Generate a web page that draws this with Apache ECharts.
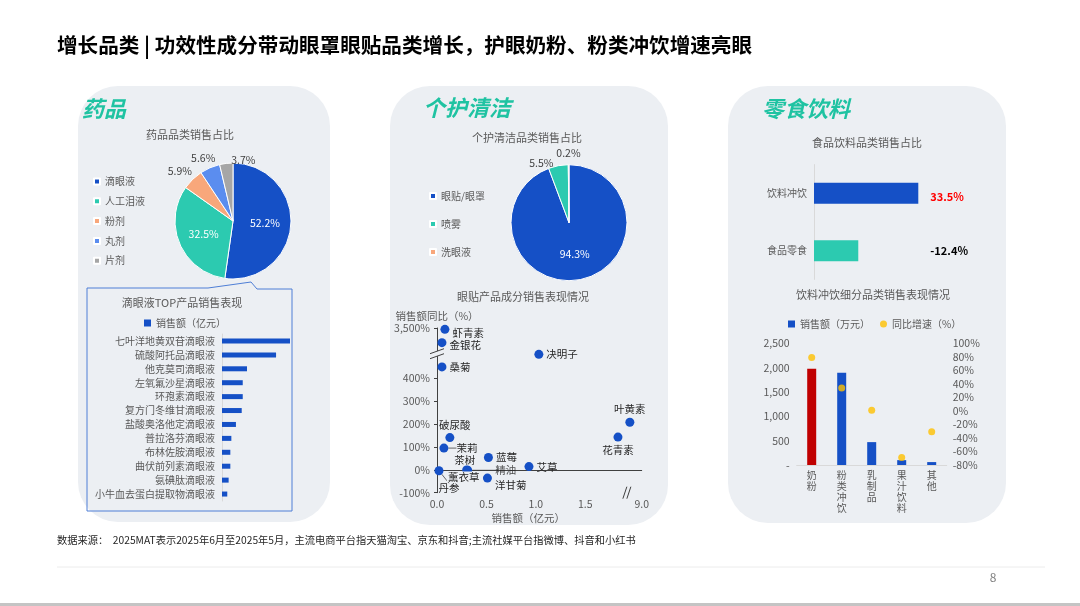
<!DOCTYPE html>
<html><head><meta charset="utf-8">
<script src="https://cdn.jsdelivr.net/npm/echarts@6/dist/echarts.min.js"></script>
<style>html,body{margin:0;padding:0;background:#fff}#c{width:1080px;height:606px}</style>
</head><body><div id="c"></div>
<script>
// ---------------- DATA ----------------
const pageTitle = '增长品类 | 功效性成分带动眼罩眼贴品类增长，护眼奶粉、粉类冲饮增速亮眼';
const sourceNote = '数据来源：  2025MAT表示2025年6月至2025年5月，主流电商平台指天猫淘宝、京东和抖音;主流社媒平台指微博、抖音和小红书';
const pageNumber = '8';
const panelTitles = ['药品', '个护清洁', '零食饮料'];

// 药品
const drugChartTitle = '药品品类销售占比';
const drugCats = ['滴眼液', '人工泪液', '粉剂', '丸剂', '片剂'];
const drugShare = [52.2, 32.5, 5.9, 5.6, 3.7];
const eyeDropTitle = '滴眼液TOP产品销售表现';
const eyeDropSeriesName = '销售额（亿元）';
const eyeDropProducts = ['七叶洋地黄双苷滴眼液', '硫酸阿托品滴眼液', '他克莫司滴眼液', '左氧氟沙星滴眼液', '环孢素滴眼液', '复方门冬维甘滴眼液', '盐酸奥洛他定滴眼液', '普拉洛芬滴眼液', '布林佐胺滴眼液', '曲伏前列素滴眼液', '氨碘肽滴眼液', '小牛血去蛋白提取物滴眼液'];
const eyeDropSales = [4.0, 3.18, 1.47, 1.22, 1.22, 1.16, 0.82, 0.55, 0.49, 0.49, 0.39, 0.31];

// 个护清洁
const careChartTitle = '个护清洁品类销售占比';
const careCats = ['眼贴/眼罩', '喷雾', '洗眼液'];
const careShare = [94.3, 5.5, 0.2];
const ingredientTitle = '眼贴产品成分销售表现情况';
const ingredientXName = '销售额（亿元）';
const ingredientYName = '销售额同比（%）';
const ingredientNames = ['虾青素', '金银花', '桑菊', '决明子', '叶黄素', '花青素', '破尿酸', '茉莉', '蓝莓', '艾草', '茶树精油', '薰衣草', '丹参', '洋甘菊'];
const ingredientSales = [0.08, 0.05, 0.05, 1.03, 8.0, 1.83, 0.13, 0.07, 0.52, 0.93, 0.31, 0.30, 0.02, 0.51];
const ingredientGrowth = [3350, 1900, 450, 620, 208, 143, 141, 95, 54, 14, -2, -1, -4, -36];
const ingredientXTicks = [0, 0.5, 1.0, 1.5, 9.0];
const ingredientYTicks = [-100, 0, 100, 200, 300, 400, 3500];

// 零食饮料
const foodChartTitle = '食品饮料品类销售占比';
const foodCats = ['饮料冲饮', '食品零食'];
const foodShare = [70.2, 29.8];
const foodGrowth = [33.5, -12.4];
const drinkChartTitle = '饮料冲饮细分品类销售表现情况';
const drinkSalesName = '销售额（万元）';
const drinkGrowthName = '同比增速（%）';
const drinkCats = ['奶粉', '粉类冲饮', '乳制品', '果汁饮料', '其他'];
const drinkSales = [1975, 1895, 470, 100, 60];
const drinkGrowth = [79, 34, 1, -69, -31];
const highlightDrink = '奶粉';

// ---------------- STYLE ----------------
const FONT = '"Noto Sans CJK SC", "Noto Sans", sans-serif';
const BLUE = '#1550c6', TEAL = '#2ccab0', ORANGE = '#f8a77b', LBLUE = '#5b8def', GRAY = '#a6a6a6';
const RED = '#c00000', YELLOW = '#ffc000', TXT = '#595959', DARK = '#404040', PANEL = '#eceff3', GREEN = '#1fc3a2';
const drugColors = [BLUE, TEAL, ORANGE, LBLUE, GRAY];
const careColors = [BLUE, TEAL, ORANGE];

// broken-axis scale transforms for the ingredient scatter
const X_LO = 1.9, X_HI = 8.0, X_GAP = 1.95, X_UP = 0.12;
const Y_LO = 500, Y_UP = 0.04;
const mapX = v => v <= X_LO ? v : X_GAP + (v - X_HI) * X_UP;
const unmapX = d => d <= X_LO ? d : X_HI + (d - X_GAP) / X_UP;
const mapY = v => v <= Y_LO ? v : Y_LO + (v - Y_LO) * Y_UP;
const unmapY = d => d <= Y_LO ? d : Y_LO + (d - Y_LO) / Y_UP;

const scLabel = {
  '虾青素': {position: 'right'},
  '金银花': {position: 'right'},
  '桑菊': {position: 'right'},
  '决明子': {position: 'right'},
  '叶黄素': {position: 'top'},
  '花青素': {position: 'bottom'},
  '破尿酸': {position: 'top'},
  '茉莉': {position: 'right'},
  '蓝莓': {position: 'right'},
  '艾草': {position: 'right'},
  '茶树精油': {position: 'top', formatter: '茶树'},
  '薰衣草': {position: 'bottom', backgroundColor: PANEL, padding: [0, 1]},
  '丹参': {position: 'bottom'},
  '洋甘菊': {position: 'right'}
};
// label nudges relative to the default label box; third flag = leader line
const scMove = {
  '虾青素': [0, 4], '金银花': [0, 2], '破尿酸': [5, 0], '茶树精油': [-3, 2],
  '薰衣草': [-3, -6], '洋甘菊': [0, 7], '茉莉': [5, 0, 1], '丹参': [10, 5, 1]
};
const pieNudge = {'粉剂': [5, -1.2], '丸剂': [6.8, -1.2], '片剂': [17.6, 2.2], '喷雾': [0.8, 2.5], '洗眼液': [8.5, -2]};

const chart = echarts.init(document.getElementById('c'));

const txt = (id, text, x, y, size, style) => ({
  type: 'text', id, x, y, z: 50,
  style: Object.assign({text, fill: TXT, fontSize: size, fontFamily: FONT, align: 'center', verticalAlign: 'middle'}, style || {})
});

const moveLabel = (d) => (p) => {
  if (!d) return {};
  const r = p.labelRect;
  return {x: r.x + d[0], y: r.y + r.height / 2 + d[1], align: 'left', verticalAlign: 'middle'};
};

const pieLayout = (names) => (p) => {
  const d = pieNudge[names[p.dataIndex]];
  return d ? {dx: d[0], dy: d[1]} : {};
};

const option = {
  animation: false,
  backgroundColor: '#fff',
  textStyle: {fontFamily: FONT},
  legend: [
    {id: 'lgDrug', orient: 'vertical', left: 88, top: 171.5, itemWidth: 6, itemHeight: 6, itemGap: 9.8, icon: 'rect', selectedMode: false,
      data: drugCats, textStyle: {fontSize: 10, color: TXT}},
    {id: 'lgCare', orient: 'vertical', left: 424, top: 186, itemWidth: 6, itemHeight: 6, itemGap: 18, icon: 'rect', selectedMode: false,
      data: careCats, textStyle: {fontSize: 10, color: TXT}},
    {id: 'lgEye', left: 139, top: 313, itemWidth: 7, itemHeight: 7, icon: 'rect', selectedMode: false,
      data: [eyeDropSeriesName], textStyle: {fontSize: 10, color: TXT}},
    {id: 'lgDrink', left: 783, top: 314, itemWidth: 7, itemHeight: 7, itemGap: 10, selectedMode: false,
      data: [{name: drinkSalesName, icon: 'rect'}, {name: drinkGrowthName, icon: 'circle'}], textStyle: {fontSize: 10, color: TXT}}
  ],
  grid: [
    {id: 'gEye', left: 222, top: 334, width: 68, height: 167, outerBoundsMode: 'none'},
    {id: 'gSc', left: 437, top: 328, width: 204.7, height: 164.7, outerBoundsMode: 'none'},
    {id: 'gFood', left: 814, top: 164.6, width: 104.3, height: 114.8, outerBoundsMode: 'none'},
    {id: 'gDrink', left: 796.7, top: 343.3, width: 150, height: 121.7, outerBoundsMode: 'none'}
  ],
  xAxis: [
    {gridIndex: 0, type: 'value', min: 0, max: 4.0, show: false},
    {gridIndex: 1, type: 'value', min: 0, max: mapX(ingredientXTicks[ingredientXTicks.length - 1]),
      axisLine: {lineStyle: {color: DARK}}, axisTick: {show: false}, splitLine: {show: false},
      axisLabel: {customValues: ingredientXTicks.map(mapX), formatter: v => unmapX(v).toFixed(1), fontSize: 10.5, color: TXT, margin: 6},
      name: ingredientXName, nameLocation: 'middle', nameGap: 20, nameTextStyle: {fontSize: 10.5, color: TXT, padding: [0, 22, 0, 0]}},
    {gridIndex: 2, type: 'value', min: 0, max: 70.2, show: false},
    {gridIndex: 3, type: 'category', data: drinkCats, axisLine: {lineStyle: {color: '#d9d9d9'}}, axisTick: {show: false},
      axisLabel: {interval: 0, formatter: s => s.split('').join('\n'), fontSize: 10, lineHeight: 11, color: TXT, margin: 5}}
  ],
  yAxis: [
    {gridIndex: 0, type: 'category', inverse: true, data: eyeDropProducts, axisLine: {lineStyle: {color: '#d9d9d9'}}, axisTick: {show: false},
      axisLabel: {interval: 0, fontSize: 10, color: TXT, margin: 7}},
    {gridIndex: 1, type: 'value', min: mapY(ingredientYTicks[0]), max: mapY(ingredientYTicks[ingredientYTicks.length - 1]),
      axisLine: {show: true, lineStyle: {color: DARK}}, splitLine: {show: false},
      axisTick: {show: true, customValues: ingredientYTicks.map(mapY), length: 3, lineStyle: {color: DARK}},
      axisLabel: {customValues: ingredientYTicks.map(mapY), formatter: v => Math.round(unmapY(v)).toLocaleString('en-US') + '%', fontSize: 10.5, color: TXT, margin: 7},
      name: ingredientYName, nameLocation: 'end', nameGap: 7, nameTextStyle: {fontSize: 10.5, color: TXT, align: 'center'}},
    {gridIndex: 2, type: 'category', inverse: true, data: foodCats, axisLine: {lineStyle: {color: '#d9d9d9'}}, axisTick: {show: false},
      axisLabel: {fontSize: 10, color: TXT, margin: 7}},
    {gridIndex: 2, type: 'category', inverse: true, position: 'right', data: foodGrowth.map(v => v.toFixed(1) + '%'),
      axisLine: {show: false}, axisTick: {show: false},
      axisLabel: {margin: 12, formatter: v => (v.charAt(0) === '-' ? '{n|' : '{p|') + v + '}',
        rich: {p: {color: '#ff0000', fontWeight: 'bold', fontSize: 11, padding: [8, 0, 0, 0]}, n: {color: '#000', fontWeight: 'bold', fontSize: 11}}}},
    {gridIndex: 3, type: 'value', min: 0, max: 2500, interval: 500, position: 'left', splitLine: {show: false}, axisLine: {show: false}, axisTick: {show: false},
      axisLabel: {formatter: v => v === 0 ? '-' : v.toLocaleString('en-US'), fontSize: 10.5, color: TXT, margin: 7}},
    {gridIndex: 3, type: 'value', min: -80, max: 100, interval: 20, position: 'right', splitLine: {show: false}, axisLine: {show: false}, axisTick: {show: false},
      axisLabel: {formatter: '{value}%', fontSize: 10.5, color: TXT, margin: 6}}
  ],
  series: [
    {type: 'pie', id: 'pDrug', center: [233, 221], radius: 58, startAngle: 90, clockwise: true, silent: true, avoidLabelOverlap: false,
      itemStyle: {borderColor: '#fff', borderWidth: 1},
      labelLine: {show: false, length: 8, length2: 0},
      labelLayout: pieLayout(drugCats),
      label: {formatter: p => p.value.toFixed(1) + '%', fontSize: 10.5, color: DARK},
      data: drugCats.map((n, i) => ({name: n, value: drugShare[i], itemStyle: {color: drugColors[i]},
        label: i < 2 ? {position: 'inside', color: '#fff'} : {position: 'outside'}}))},
    {type: 'pie', id: 'pCare', center: [569, 222.7], radius: 58, startAngle: 90, clockwise: true, silent: true, avoidLabelOverlap: false,
      itemStyle: {borderColor: '#fff', borderWidth: 1},
      labelLine: {show: false, length: 8, length2: 0},
      labelLayout: pieLayout(careCats),
      label: {formatter: p => p.value.toFixed(1) + '%', fontSize: 10.5, color: DARK},
      data: careCats.map((n, i) => ({name: n, value: careShare[i], itemStyle: {color: careColors[i]},
        label: i < 1 ? {position: 'inside', color: '#fff'} : {position: 'outside'}}))},
    {type: 'bar', name: eyeDropSeriesName, xAxisIndex: 0, yAxisIndex: 0, data: eyeDropSales, barWidth: 5, itemStyle: {color: BLUE}, silent: true},
    {type: 'scatter', id: 'sc', xAxisIndex: 1, yAxisIndex: 1, symbolSize: 9, itemStyle: {color: BLUE, opacity: 1}, silent: true,
      label: {show: true, formatter: p => p.name, fontSize: 10.5, color: '#262626', distance: 3},
      labelLine: {show: false, lineStyle: {color: DARK, width: 0.8}},
      labelLayout: p => moveLabel(scMove[ingredientNames[p.dataIndex]])(p),
      data: ingredientNames.map((n, i) => ({name: n, value: [mapX(ingredientSales[i]), mapY(ingredientGrowth[i])],
        label: scLabel[n], labelLine: {show: !!(scMove[n] && scMove[n][2])}}))},
    {type: 'scatter', id: 'scOil', xAxisIndex: 1, yAxisIndex: 1, symbolSize: 9, itemStyle: {color: 'rgba(0,0,0,0)'}, silent: true, z: 1,
      label: {show: true, formatter: '精油', position: 'right', fontSize: 10.5, color: '#262626', distance: 3},
      labelLine: {show: true, lineStyle: {color: DARK, width: 0.8}},
      labelLayout: moveLabel([20, 0]),
      data: [ingredientNames.indexOf('茶树精油')].map(i => ({name: ingredientNames[i], value: [mapX(ingredientSales[i]), mapY(ingredientGrowth[i])]}))},
    {type: 'bar', xAxisIndex: 2, yAxisIndex: 2, barWidth: 21, silent: true,
      data: foodShare.map((v, i) => ({value: v, itemStyle: {color: [BLUE, TEAL][i]}}))},
    {type: 'bar', name: drinkSalesName, xAxisIndex: 3, yAxisIndex: 4, barWidth: 9, itemStyle: {color: BLUE}, silent: true,
      data: drinkSales.map((v, i) => drinkCats[i] === highlightDrink ? {value: v, itemStyle: {color: RED}} : v)},
    {type: 'scatter', name: drinkGrowthName, xAxisIndex: 3, yAxisIndex: 5, symbolSize: 7, itemStyle: {color: YELLOW}, silent: true, z: 5,
      data: drinkGrowth}
  ],
  graphic: {elements: [
    {type: 'rect', id: 'panel1', z: -10, shape: {x: 78, y: 86, width: 252, height: 436, r: 40}, style: {fill: PANEL}},
    {type: 'rect', id: 'panel2', z: -10, shape: {x: 390, y: 86, width: 278, height: 439, r: 40}, style: {fill: PANEL}},
    {type: 'rect', id: 'panel3', z: -10, shape: {x: 728, y: 86, width: 278, height: 437, r: 40}, style: {fill: PANEL}},
    txt('title', pageTitle, 57, 45, 20.6, {fill: '#000', fontWeight: 'bold', align: 'left'}),
    txt('pt1', panelTitles[0], 82, 109, 22, {fill: GREEN, fontWeight: 'bold', fontStyle: 'italic', align: 'left'}),
    txt('pt2', panelTitles[1], 423, 108, 22, {fill: GREEN, fontWeight: 'bold', fontStyle: 'italic', align: 'left'}),
    txt('pt3', panelTitles[2], 762, 109, 22, {fill: GREEN, fontWeight: 'bold', fontStyle: 'italic', align: 'left'}),
    txt('ct1', drugChartTitle, 190, 135, 11),
    txt('ct2', eyeDropTitle, 182, 303, 11),
    txt('ct3', careChartTitle, 527, 138, 11),
    txt('ct4', ingredientTitle, 523, 297, 11),
    txt('ct5', foodChartTitle, 867, 143, 11),
    txt('ct6', drinkChartTitle, 873, 295, 11),
    {type: 'polyline', id: 'callout', z: 20, shape: {points: [[208, 288], [87, 288], [87, 511], [292, 511], [292, 289], [257, 289], [251, 282], [208, 288]]},
      style: {stroke: '#4f7fd6', lineWidth: 1, fill: null}},
    txt('src', sourceNote, 57, 540, 10.25, {fill: '#262626', align: 'left'}),
    {type: 'line', id: 'footLine', z: 5, shape: {x1: 57, y1: 567, x2: 1045, y2: 567}, style: {stroke: '#ececec', lineWidth: 1}},
    txt('pn', pageNumber, 993, 577, 12, {fill: '#7f7f7f'}),
    {type: 'rect', id: 'bottomBar', z: 5, shape: {x: 0, y: 603, width: 1080, height: 3}, style: {fill: '#c4c4c4'}}
  ]}
};
chart.setOption(option);

// axis-break marks, positioned through the scatter grid's own scales
const yAxisBreakPt = chart.convertToPixel({gridIndex: 1}, [0, 512]);
const xAxisBreakPt = chart.convertToPixel({gridIndex: 1}, [1.92, mapY(ingredientYTicks[0])]);
const bx = yAxisBreakPt[0], by = yAxisBreakPt[1];
const cx = xAxisBreakPt[0], cy = xAxisBreakPt[1];
chart.setOption({graphic: {elements: [
  {type: 'polygon', id: 'ybGap', z: 60, shape: {points: [[bx - 7, by + 1], [bx + 7, by - 4], [bx + 7, by + 1], [bx - 7, by + 6]]}, style: {fill: PANEL}},
  {type: 'line', id: 'yb1', z: 61, shape: {x1: bx - 7, y1: by + 1, x2: bx + 7, y2: by - 4}, style: {stroke: DARK, lineWidth: 1}},
  {type: 'line', id: 'yb2', z: 61, shape: {x1: bx - 7, y1: by + 6, x2: bx + 7, y2: by + 1}, style: {stroke: DARK, lineWidth: 1}},
  {type: 'polygon', id: 'xbGap', z: 60, shape: {points: [[cx - 4, cy + 6], [cx, cy - 6], [cx + 4, cy - 6], [cx, cy + 6]]}, style: {fill: PANEL}},
  {type: 'line', id: 'xb1', z: 61, shape: {x1: cx - 4, y1: cy + 6, x2: cx, y2: cy - 6}, style: {stroke: DARK, lineWidth: 1}},
  {type: 'line', id: 'xb2', z: 61, shape: {x1: cx, y1: cy + 6, x2: cx + 4, y2: cy - 6}, style: {stroke: DARK, lineWidth: 1}}
]}});
</script></body></html>
